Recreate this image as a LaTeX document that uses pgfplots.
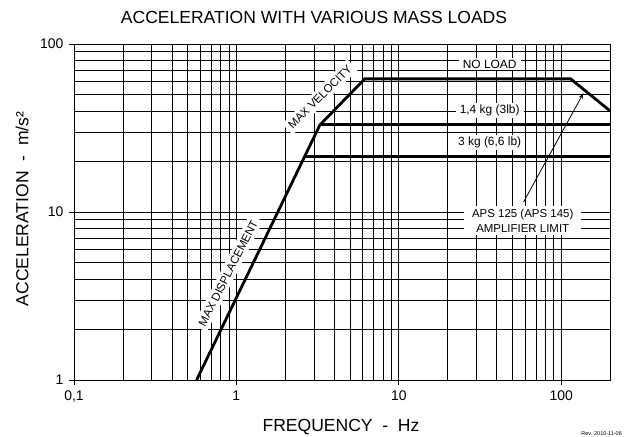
\documentclass[border=0pt]{standalone}
\usepackage{pgfplots}
\pgfplotsset{compat=1.18}
\usetikzlibrary{arrows.meta}
\usepackage{fontspec}
\setmainfont{Liberation Sans}
\begin{document}
\begin{tikzpicture}[x=1bp,y=1bp]
\useasboundingbox (-74,-57) rectangle (550,380);
\begin{axis}[at={(0,0)}, anchor=south west, scale only axis,
  width=536bp, height=336bp,
  xmode=log, ymode=log, xmin=0.1, xmax=200, ymin=1, ymax=100,
  xtick={0.1,1,10,100}, xticklabels={0{,}1,1,10,100},
  ytick={1,10,100}, yticklabels={1,10,100},
  minor xtick={0.2,0.3,0.4,0.5,0.6,0.7,0.8,0.9,2,3,4,5,6,7,8,9,20,30,40,50,60,70,80,90},
  minor ytick={2,3,4,5,6,7,8,9,20,30,40,50,60,70,80,90},
  grid=both,
  major grid style={black, line width=0.6bp},
  minor grid style={black, line width=0.5bp},
  tick align=outside, tick pos=left,
  major tick length=5bp, minor tick length=0pt,
  tick style={black, line width=0.6bp},
  axis line style={black, line width=0.8bp},
  ticklabel style={font=\fontsize{14}{16}\selectfont},
  xticklabel style={yshift=-2bp},
  yticklabel style={xshift=-2bp},
  clip=true,
]
\addplot[black, line width=2.8bp, line join=miter] coordinates {(0.569,1) (3.27,33) (6.18,62) (114.4,62) (200,40)};
\addplot[black, line width=2.8bp] coordinates {(3.27,33) (200,33)};
\addplot[black, line width=2.8bp] coordinates {(2.64,21.5) (200,21.5)};

\node[fill=white, inner xsep=4bp, inner ysep=2bp, font=\fontsize{12}{13}\selectfont] at (axis cs:36.3,76) {NO LOAD};
\node[fill=white, inner xsep=4bp, inner ysep=2bp, font=\fontsize{12}{13}\selectfont] at (axis cs:36.3,40.1) {1,4 kg (3lb)};
\node[fill=white, inner xsep=4bp, inner ysep=2bp, font=\fontsize{12}{13}\selectfont] at (axis cs:36.3,25.8) {3 kg (6,6 lb)};
\draw[-{Stealth[length=6bp,width=4bp]}, line width=0.8bp] (axis cs:58.7,11.47) -- (axis cs:137.4,51.1);
\node[fill=white, inner xsep=8bp, inner ysep=3bp, align=center, font=\fontsize{11.5}{15}\selectfont] at (axis cs:58,8.9) {APS 125 (APS 145)\\AMPLIFIER LIMIT};
\node[fill=white, inner sep=3.5bp, rotate=45, font=\fontsize{11.5}{13}\selectfont] at (axis cs:3.27,48.4) {MAX VELOCITY};
\node[fill=white, inner sep=3.5bp, rotate=63, font=\fontsize{11.5}{13}\selectfont] at (axis cs:0.89,4.32) {MAX DISPLACEMENT};
\end{axis}
\node[font=\fontsize{17.6}{20}\selectfont] at (240,363) {ACCELERATION WITH VARIOUS MASS LOADS};
\node[font=\fontsize{17.6}{20}\selectfont] at (267,-47) {FREQUENCY\ \ -\ \ Hz};
\node[rotate=90, font=\fontsize{17.6}{20}\selectfont] at (-52,171) {ACCELERATION\ \ -\ \ m/s²};
\node[anchor=south east, inner sep=0pt, font=\fontsize{5.5}{6}\selectfont] at (548,-56) {Rev. 2010-11-06};
\end{tikzpicture}
\end{document}
